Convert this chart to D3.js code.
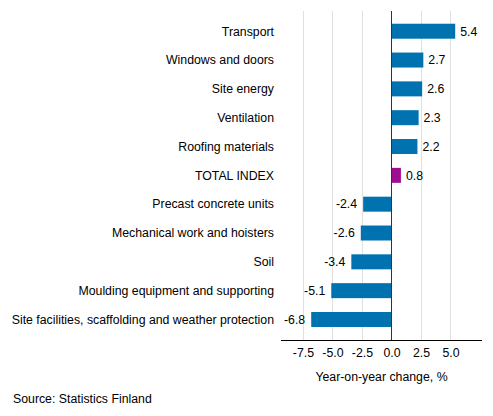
<!DOCTYPE html>
<html>
<head>
<meta charset="utf-8">
<script src="https://cdn.jsdelivr.net/npm/d3@7"></script>
<style>
  body { margin: 0; background: #fff; }
  svg text { font-family: "Liberation Sans", Arial, sans-serif; font-size: 12.3px; fill: #000; }
</style>
</head>
<body>
<svg id="chart" width="493" height="416"></svg>
<script>
// Year-on-year change by cost factor
const categories = [
  'Transport', 'Windows and doors', 'Site energy', 'Ventilation', 'Roofing materials',
  'TOTAL INDEX', 'Precast concrete units', 'Mechanical work and hoisters', 'Soil',
  'Moulding equipment and supporting', 'Site facilities, scaffolding and weather protection'
];
const values = [5.4, 2.7, 2.6, 2.3, 2.2, 0.8, -2.4, -2.6, -3.4, -5.1, -6.8];
const tickValues = [-7.5, -5.0, -2.5, 0.0, 2.5, 5.0];
const highlight = 'TOTAL INDEX';

const svg = d3.select('#chart');

const plotTop = 11, plotBottom = 340;
const x = d3.scaleLinear().domain([-9.36, 7.67]).range([281, 482]);
const y = d3.scaleBand().domain(categories).range([16.8, 333.9]).paddingInner(0.48).paddingOuter(0.24);

// Vertical grid lines
svg.append('g').selectAll('line')
  .data(tickValues.filter(d => d !== 0))
  .join('line')
  .attr('x1', d => Math.round(x(d)) + 0.5)
  .attr('x2', d => Math.round(x(d)) + 0.5)
  .attr('y1', plotTop)
  .attr('y2', plotBottom)
  .attr('stroke', '#e0e0e0')
  .attr('stroke-width', 1);

// Bars
svg.append('g').selectAll('rect')
  .data(categories)
  .join('rect')
  .attr('x', (d, i) => x(Math.min(0, values[i])))
  .attr('y', d => y(d))
  .attr('width', (d, i) => Math.abs(x(values[i]) - x(0)))
  .attr('height', y.bandwidth())
  .attr('fill', d => d === highlight ? '#9e0f8f' : '#0072b0');

// Value labels
svg.append('g').selectAll('text')
  .data(categories)
  .join('text')
  .attr('x', (d, i) => values[i] >= 0 ? x(values[i]) + 5 : x(values[i]) - 6)
  .attr('y', d => y(d) + y.bandwidth() / 2)
  .attr('dy', '0.35em')
  .attr('text-anchor', (d, i) => values[i] >= 0 ? 'start' : 'end')
  .text((d, i) => values[i].toFixed(1));

// Category labels
svg.append('g').selectAll('text')
  .data(categories)
  .join('text')
  .attr('x', 274)
  .attr('y', d => y(d) + y.bandwidth() / 2)
  .attr('dy', '0.35em')
  .attr('text-anchor', 'end')
  .text(d => d);

// Zero line
svg.append('line')
  .attr('x1', Math.round(x(0)) + 0.5)
  .attr('x2', Math.round(x(0)) + 0.5)
  .attr('y1', plotTop)
  .attr('y2', plotBottom)
  .attr('stroke', '#333')
  .attr('stroke-width', 1);

// X axis
const xAxis = d3.axisBottom(x)
  .tickValues(tickValues)
  .tickSize(0)
  .tickPadding(8)
  .tickFormat(d3.format('.1f'));

const axisG = svg.append('g')
  .attr('transform', `translate(0,${plotBottom + 0.5})`)
  .call(xAxis);
axisG.select('.domain').attr('stroke', '#000').attr('d', `M${x.range()[0]},0H${x.range()[1]}`);
axisG.selectAll('text')
  .attr('font-family', '"Liberation Sans", Arial, sans-serif')
  .attr('font-size', 12.3)
  .attr('fill', '#000')
  .text(d => d3.format('.1f')(d).replace('−', '-'));

// Axis title
svg.append('text')
  .attr('x', (x.range()[0] + x.range()[1]) / 2)
  .attr('y', 377)
  .attr('dy', '0.35em')
  .attr('text-anchor', 'middle')
  .text('Year-on-year change, %');

// Source
svg.append('text')
  .attr('x', 13)
  .attr('y', 398.5)
  .attr('dy', '0.35em')
  .text('Source: Statistics Finland');
</script>
</body>
</html>
